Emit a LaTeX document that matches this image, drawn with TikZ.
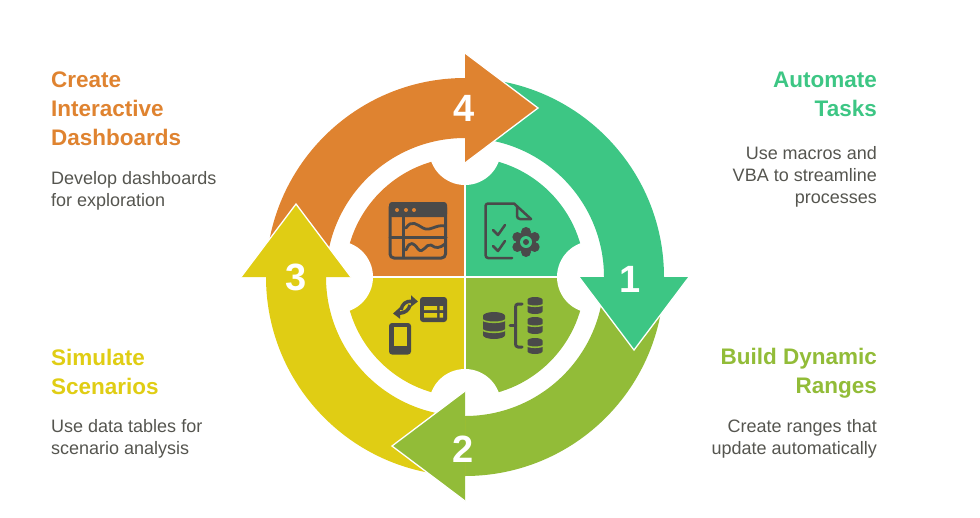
\documentclass[tikz,border=0pt]{standalone}
\usepackage{fontspec}
\setmainfont{Liberation Sans}
\usetikzlibrary{arrows.meta}

\definecolor{orangeArc}{HTML}{DF8330}
\definecolor{greenArc}{HTML}{3DC684}
\definecolor{limeArc}{HTML}{92BC38}
\definecolor{yellowArc}{HTML}{E0CD14}
\definecolor{iconGray}{HTML}{4A4A4A}
\definecolor{bodyGray}{HTML}{55554F}

\tikzset{
    title/.style={font=\fontsize{22.5}{29}\selectfont\bfseries, inner sep=0pt},
    body/.style={font=\fontsize{18}{22}\selectfont, text=bodyGray, inner sep=0pt},
    number/.style={font=\fontsize{38}{38}\selectfont\bfseries, text=white, inner sep=0pt},
    iconline/.style={draw=iconGray, line width=3pt, line cap=round, line join=round}
}

% database stack: x, top y, bottom y, half width
\newcommand{\dbstack}[4]{
    \fill[iconGray] (#1,#2-.35*#4) ellipse[x radius=#4pt,y radius=.35*#4pt]
        (#1,#3+.35*#4) ellipse[x radius=#4pt,y radius=.35*#4pt]
        (#1-#4,#2-.35*#4) rectangle (#1+#4,#3+.35*#4);
}
% gap between two layers of a stack: x, y, half width
\newcommand{\dbgap}[3]{
    \draw[limeArc, line width=1.6pt] (#1-#3-1,#2) arc[start angle=180,end angle=360,x radius=#3pt+1pt,y radius=.3*#3pt];
}

\begin{document}
\begin{tikzpicture}[x=1pt,y=1pt]
    \useasboundingbox (0,0) rectangle (980,-517);
    \coordinate (hub) at (465,-277);

    % Quarter sectors in the middle
    \foreach \col/\ang in {orangeArc/0, greenArc/-90, limeArc/-180, yellowArc/-270}
        \fill[\col, shift={(hub)}, rotate=\ang] (0,0) -- (180:120pt) arc[start angle=180,end angle=90,radius=120pt] -- cycle;

    % White notches and the cross between the sectors
    \foreach \ang in {0,90,180,270}
        \fill[white, shift={(hub)}] (\ang:128pt) circle[radius=36pt];
    \draw[white, line width=2pt] (465,-150) -- (465,-404);
    \draw[white, line width=2pt] (338,-277) -- (592,-277);

    % Arrow bodies first, heads on top of them
    \foreach \col/\ang in {orangeArc/0, greenArc/-90, limeArc/-180, yellowArc/-270}
        \fill[\col, shift={(hub)}, rotate=\ang] (180:139pt) arc[start angle=180,end angle=90,radius=139pt] -- (90:199pt) arc[start angle=90,end angle=180,radius=199pt] -- cycle;
    \foreach \col/\ang in {orangeArc/0, greenArc/-90, limeArc/-180, yellowArc/-270} {
        \fill[\col, shift={(hub)}, rotate=\ang] (0,114) -- (73,169) -- (0,224) -- cycle;
        \draw[white, line width=1.3pt, shift={(hub)}, rotate=\ang] (0,114) -- (73,169) -- (0,224);
    }

    % Numbers
    \node[number] (num4) at (464,-108) {4};
    \node[number] (num1) at (630,-279) {1};
    \node[number] (num2) at (463,-449) {2};
    \node[number] (num3) at (296,-277) {3};

    % Dashboard icon
    \draw[iconline, rounded corners=4pt] (390,-203.5) rectangle (445.5,-258);
    \fill[iconGray, rounded corners=3pt] (389,-202) rectangle (447,-217);
    \fill[orangeArc] (397,-210) circle[radius=2pt] (406,-210) circle[radius=2pt] (414,-210) circle[radius=2pt];
    \draw[iconline, line width=2.5pt] (403.5,-216) -- (403.5,-257);
    \draw[iconline, line width=3pt] (390,-237) -- (446,-237);
    \draw[iconline, line width=2.8pt] (406,-228) .. controls (412,-219) and (417,-225) .. (423,-228) .. controls (430,-232) and (436,-224) .. (445,-226);
    \draw[iconline, line width=2.8pt] (406,-250) .. controls (410,-240) and (414,-243) .. (418,-249) .. controls (423,-255) and (426,-243) .. (431,-245) .. controls (436,-249) and (440,-248) .. (445,-244);

    % Checklist icon
    \draw[iconline, line width=2.5pt] (512,-258) -- (488,-258) to[out=180,in=-90] (485.5,-255) -- (485.5,-206) to[out=90,in=180] (488,-203.5) -- (514,-203.5) -- (531,-219);
    \draw[iconline, line width=2.5pt] (517,-207) -- (517,-216) to[out=-90,in=180] (520,-219) -- (531,-219);
    \draw[iconline, line width=2.5pt] (493,-230) -- (498,-235) -- (505,-225);
    \draw[iconline, line width=2.5pt] (493,-246) -- (498,-251) -- (505,-241);
    \fill[iconGray] (526,-242) circle[radius=10pt];
    \foreach \ang in {30,90,150,210,270,330}
        \fill[iconGray, shift={(526,-242)}] (\ang:10pt) circle[radius=5pt];
    \fill[greenArc] (526,-242) circle[radius=6pt];
    \fill[iconGray] (526,-242) circle[radius=3pt];

    % Table and phone icon
    \fill[iconGray, rounded corners=3pt] (389,-323) rectangle (411,-354.5);
    \fill[yellowArc] (393.5,-327) rectangle (407,-346);
    \fill[iconGray, rounded corners=3pt] (420,-297) rectangle (447,-322);
    \fill[yellowArc] (424,-306) rectangle (437,-310) (439.5,-306) rectangle (443,-310)
        (424,-313) rectangle (437,-317.5) (439.5,-313) rectangle (443,-317.5);
    \draw[iconline, line width=3.5pt, line cap=butt, -{Triangle[length=7pt,width=11pt]}] (401,-310) .. controls (402,-304) and (406,-301) .. (418,-301.5);
    \draw[iconline, line width=3.5pt, line cap=butt, -{Triangle[length=7pt,width=11pt]}] (410,-305) .. controls (409,-310) and (405,-313) .. (393,-313.5);

    % Database icon
    \dbstack{494}{-312}{-339}{11}
    \dbgap{494}{-319}{11}
    \dbgap{494}{-329}{11}
    \foreach \top/\bot/\gap in {-297/-314/-304, -317/-334/-324, -338/-354/-345} {
        \dbstack{535}{\top}{\bot}{7.5}
        \dbgap{535}{\gap}{7.5}
    }
    \draw[iconline] (522,-304) -- (518,-304) to[out=180,in=90] (515.5,-307) -- (515.5,-344) to[out=-90,in=180] (518,-347) -- (522,-347);
    \draw[iconline] (510,-325) -- (515.5,-325);

    % Labels
    \node[title, text=orangeArc, anchor=west, align=left] (titleDash) at (51,-109) {Create\\Interactive\\Dashboards};
    \node[body, anchor=west, align=left] (bodyDash) at (51,-191) {Develop dashboards\\for exploration};
    \node[title, text=greenArc, anchor=east, align=right] (titleAuto) at (877,-94.5) {Automate\\Tasks};
    \node[body, anchor=east, align=right] (bodyAuto) at (877,-177) {Use macros and\\VBA to streamline\\processes};
    \node[title, text=yellowArc, anchor=west, align=left] (titleSim) at (51,-372) {Simulate\\Scenarios};
    \node[body, anchor=west, align=left] (bodySim) at (51,-439) {Use data tables for\\scenario analysis};
    \node[title, text=limeArc, anchor=east, align=right] (titleRange) at (877,-373.5) {Build Dynamic\\Ranges};
    \node[body, anchor=east, align=right] (bodyRange) at (877,-439) {Create ranges that\\update automatically};
\end{tikzpicture}
\end{document}
